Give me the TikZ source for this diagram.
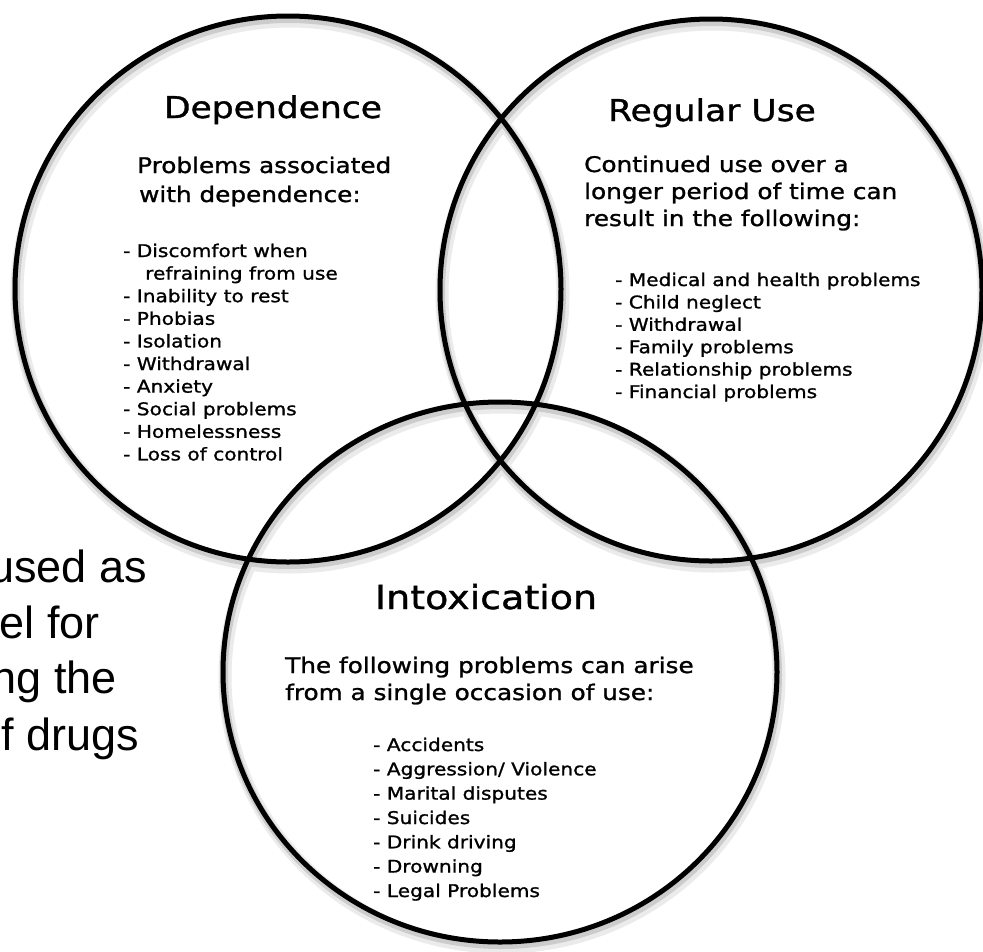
\documentclass[tikz,border=0pt]{standalone}
\usepackage{fontspec}
\newfontfamily\hand[FakeStretch=1.15,FakeBold=1.2]{DejaVu Sans}
\newfontfamily\arialfont{Liberation Sans}
\begin{document}
\begin{tikzpicture}[x=1pt,y=-1pt,
  ring/.style={draw=black, line width=5pt},
  shadeA/.style={draw=black!8, line width=13pt},
  shadeB/.style={draw=black!20, line width=8pt},
  ttl/.style={font=\hand\fontsize{30}{36}\selectfont, inner sep=0pt, anchor=base},
  sub/.style={font=\hand\fontsize{21.5}{27}\selectfont, inner sep=0pt, anchor=base west},
  item/.style={font=\hand\fontsize{17.5}{22}\selectfont, inner sep=0pt, anchor=base west},
  side/.style={font=\arialfont\fontsize{45}{55}\selectfont, inner sep=0pt, anchor=base east}]
\clip (0,0) rectangle (983,951);
\fill[white] (0,0) rectangle (983,951);

% left clipped text
\node[side] (s1) at (147,582) {used as};
\node[side] (s2) at (100,638) {el for};
\node[side] (s3) at (117,693) {ng the};
\node[side] (s4) at (139,750) {f drugs};

% soft shadows
\draw[shadeA] (290,294) circle[radius=273pt];
\draw[shadeA] (713,295) circle[radius=271pt];
\draw[shadeA] (502,677) circle[x radius=277pt, y radius=270pt];
\draw[shadeB] (289,292) circle[radius=273pt];
\draw[shadeB] (712,293) circle[radius=271pt];
\draw[shadeB] (501,675) circle[x radius=277pt, y radius=270pt];

% circles
\draw[ring] (288,289) circle[radius=273pt];
\draw[ring] (711,290) circle[radius=271pt];
\draw[ring] (500,672) circle[x radius=277pt, y radius=270pt];

% Dependence
\node[ttl] (dT) at (273,118) {Dependence};
\node[sub] (dS1) at (137,173) {Problems associated};
\node[sub] (dS2) at (139,202) {with dependence:};
\node[item] (d1) at (123,257) {- Discomfort when};
\node[item] (d2) at (145,279.6) {refraining from use};
\node[item] (d3) at (123,302.2) {- Inability to rest};
\node[item] (d4) at (123,324.8) {- Phobias};
\node[item] (d5) at (123,347.4) {- Isolation};
\node[item] (d6) at (123,370) {- Withdrawal};
\node[item] (d7) at (123,392.6) {- Anxiety};
\node[item] (d8) at (123,415.2) {- Social problems};
\node[item] (d9) at (123,437.8) {- Homelessness};
\node[item] (d10) at (123,460.4) {- Loss of control};

% Regular Use
\node[ttl] (rT) at (712,121) {Regular Use};
\node[sub] (rS1) at (584,172) {Continued use over a};
\node[sub] (rS2) at (584,199) {longer period of time can};
\node[sub] (rS3) at (584,226) {result in the following:};
\node[item] (r1) at (615,286) {- Medical and health problems};
\node[item] (r2) at (615,308.4) {- Child neglect};
\node[item] (r3) at (615,330.8) {- Withdrawal};
\node[item] (r4) at (615,353.2) {- Family problems};
\node[item] (r5) at (615,375.6) {- Relationship problems};
\node[item] (r6) at (615,398) {- Financial problems};

% Intoxication
\node[ttl, font=\hand\fontsize{33}{38}\selectfont] (iT) at (486,609) {Intoxication};
\node[sub] (iS1) at (285,673) {The following problems can arise};
\node[sub] (iS2) at (285,700) {from a single occasion of use:};
\node[item] (i1) at (373,751) {- Accidents};
\node[item] (i2) at (373,775.3) {- Aggression/ Violence};
\node[item] (i3) at (373,799.6) {- Marital disputes};
\node[item] (i4) at (373,824) {- Suicides};
\node[item] (i5) at (373,848.3) {- Drink driving};
\node[item] (i6) at (373,872.6) {- Drowning};
\node[item] (i7) at (373,897) {- Legal Problems};
\end{tikzpicture}
\end{document}
